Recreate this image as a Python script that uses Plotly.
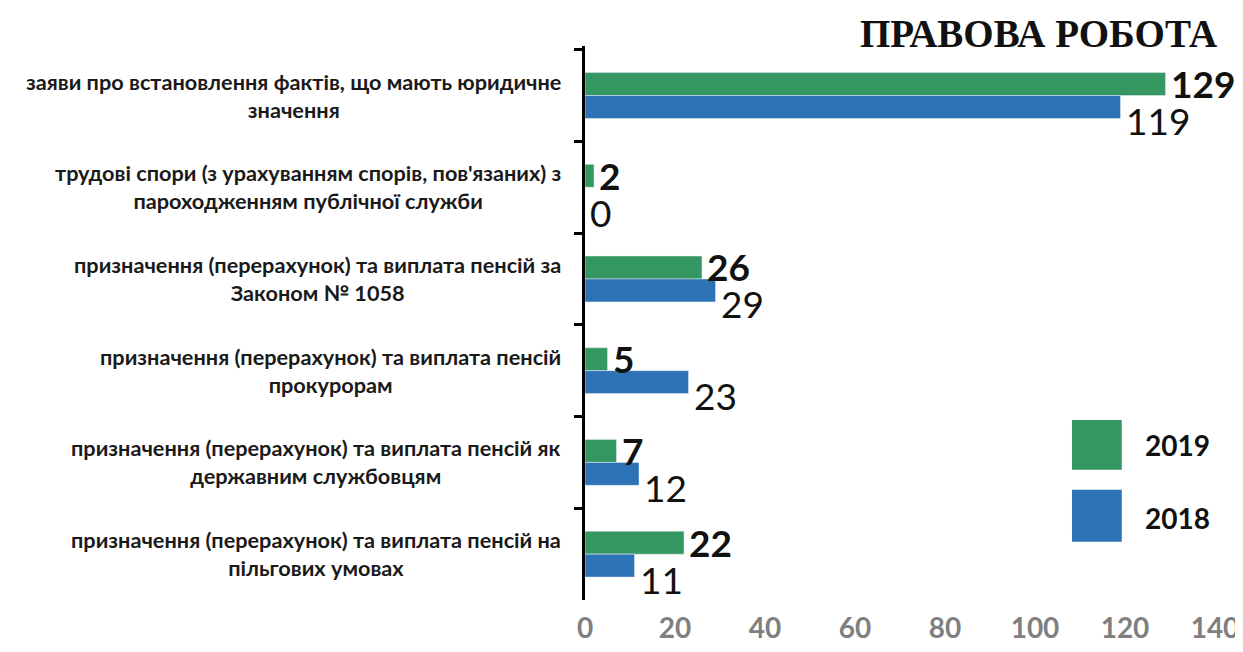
import plotly.graph_objects as go

categories = [
    "заяви про встановлення фактів, що мають юридичне<br>значення",
    "трудові спори (з урахуванням спорів, пов'язаних) з<br>пароходженням публічної служби",
    "призначення (перерахунок) та виплата пенсій за<br>Законом № 1058",
    "призначення (перерахунок) та виплата пенсій<br>прокурорам",
    "призначення (перерахунок) та виплата пенсій як<br>державним службовцям",
    "призначення (перерахунок) та виплата пенсій на<br>пільгових умовах",
]
values_2019 = [129, 2, 26, 5, 7, 22]
values_2018 = [119, 0, 29, 23, 12, 11]
series_names = ["2019", "2018"]
colors = ["#349762", "#2e72b6"]
x_ticks = [0, 20, 40, 60, 80, 100, 120, 140]

FONT = "Lato"

fig = go.Figure()
fig.add_trace(go.Bar(y=categories, x=values_2019, orientation="h",
                     name=series_names[0], marker_color=colors[0]))
fig.add_trace(go.Bar(y=categories, x=values_2018, orientation="h",
                     name=series_names[1], marker_color=colors[1]))

# value labels: 2019 bold next to its bar, 2018 a bit lower like the original
for vals, bold, dy in [(values_2019, True, 12), (values_2018, False, -25)]:
    for cat, v in zip(categories, vals):
        txt = f"<b>{v}</b>" if bold else str(v)
        fig.add_annotation(x=v, y=cat, xref="x", yref="y", text=txt,
                           showarrow=False, xanchor="left", xshift=3, yshift=dy,
                           font=dict(family=FONT, size=37, color="#111111"))

# category labels, centred lines like the original
for cat in categories:
    fig.add_annotation(
        x=0, xref="paper", y=cat, yref="y", xanchor="right", xshift=-22,
        text="<b>" + cat + "</b>", showarrow=False, align="center",
        font=dict(family=FONT, size=21.7, color="#1a1a1a"),
    )

# legend drawn by hand with big squares
legend_y = [(0.235, 0.325, 0.280), (0.105, 0.199, 0.148)]
for name, col, (y0, y1, ty) in zip(series_names, colors, legend_y):
    fig.add_shape(type="rect", xref="paper", yref="paper",
                  x0=0.773, x1=0.852, y0=y0, y1=y1,
                  fillcolor=col, line_width=0)
    fig.add_annotation(x=0.886, y=ty, xref="paper", yref="paper",
                       xanchor="left", yanchor="middle",
                       text="<b>" + name + "</b>", showarrow=False,
                       font=dict(family=FONT, size=28, color="#111111"))

fig.add_annotation(
    x=0.72, y=1.023, xref="paper", yref="paper", showarrow=False,
    xanchor="center", yanchor="middle",
    text="<b>ПРАВОВА РОБОТА</b>",
    font=dict(family="Liberation Serif", size=39, color="#111111"),
)

# page has an 8px body margin, so keep the figure inside the window
fig.update_layout(
    width=1235, height=636,
    margin=dict(l=577, r=28, t=38, b=44),
    plot_bgcolor="white", paper_bgcolor="white",
    barmode="group", bargap=0.5, bargroupgap=0,
    showlegend=False,
)
fig.update_xaxes(
    range=[0, 140], tickvals=x_ticks, showgrid=False, zeroline=False,
    showline=False, ticklabelstandoff=9, automargin=False,
    tickfont=dict(family=FONT, size=28, color="#7f7f7f", weight="bold"),
)
fig.update_yaxes(
    autorange="reversed", showticklabels=False, showgrid=False,
    showline=True, linecolor="black", linewidth=3, automargin=False,
    ticks="outside", tickson="boundaries", ticklen=8, tickwidth=3,
    tickcolor="black",
)

fig.write_html("out.html")
